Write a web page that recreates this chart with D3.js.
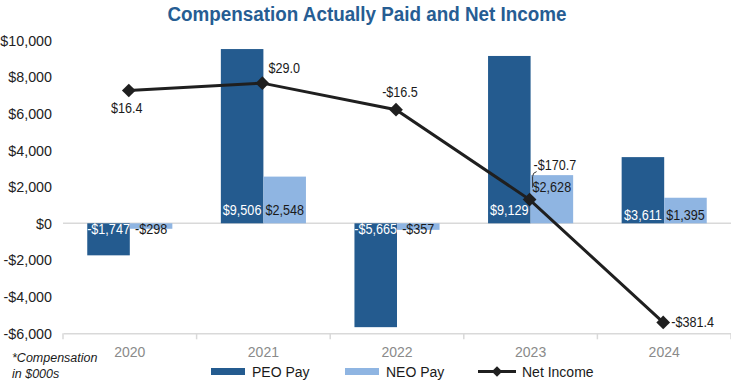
<!DOCTYPE html>
<html><head><meta charset="utf-8">
<script src="https://cdn.jsdelivr.net/npm/d3@7"></script>
<style>
body{margin:0;background:#fff;}
text{font-family:"Liberation Sans",Arial,sans-serif;}
</style></head>
<body><svg id="c" width="731" height="380"></svg>
<script>
const years = ["2020","2021","2022","2023","2024"];
const peoPay = [-1747, 9506, -5665, 9129, 3611];
const neoPay = [-298, 2548, -357, 2628, 1395];
const netIncome = [16.4, 29.0, -16.5, -170.7, -381.4];
const yTicks = [-6000,-4000,-2000,0,2000,4000,6000,8000,10000];
const seriesNames = ["PEO Pay","NEO Pay","Net Income"];

const pL=63, pR=731, pT=40, pB=333.3;
const cPEO="#245b8f", cNEO="#8fb5e2", cTitle="#265d93";
const svg=d3.select("#c");

const x0=d3.scaleBand().domain(years).range([pL,pR]).paddingInner(0).paddingOuter(0);
const x1=d3.scaleBand().domain(["PEO","NEO"]).range([0,x0.bandwidth()]).paddingInner(0).paddingOuter(0.57);
const y=d3.scaleLinear().domain([-6000,10000]).range([pB,pT]);
const y2=d3.scaleLinear().domain([-400,103]).range([pB,pT]);
const fmt=v=>(v<0?"-$":"$")+d3.format(",")(Math.abs(v));
const fmt1=v=>(v<0?"-$":"$")+d3.format(".1f")(Math.abs(v));
function condense(sel,k){sel.each(function(){const w=this.getComputedTextLength();d3.select(this).attr("textLength",w*k).attr("lengthAdjust","spacingAndGlyphs");});}

// title
svg.append("text").attr("x",367).attr("y",21).attr("text-anchor","middle")
 .attr("fill",cTitle).attr("font-weight","bold").attr("font-size",20)
 .attr("textLength",399).attr("lengthAdjust","spacingAndGlyphs")
 .style("font-family","'Liberation Sans Narrow','Arial Narrow','Liberation Sans',sans-serif")
 .text("Compensation Actually Paid and Net Income");

// y axis labels
const yAxis=d3.axisLeft(y).tickValues(yTicks).tickSize(0).tickPadding(0).tickFormat(fmt);
const ga=svg.append("g").attr("transform",`translate(${pL-11},0)`).call(yAxis);
ga.select(".domain").remove();
ga.selectAll("text").attr("font-size",14.3).attr("fill","#222").attr("dy","0.35em")
  .style("font-family","'Liberation Sans',Arial,sans-serif");

// zero line & bottom axis
svg.append("line").attr("x1",pL).attr("x2",pR).attr("y1",y(0)).attr("y2",y(0)).attr("stroke","#d9d9d9").attr("stroke-width",1.5);
const xAxis=d3.axisBottom(x0).tickSize(0).tickPadding(0);
const gx=svg.append("g").attr("transform",`translate(0,${y(-6000)})`).call(xAxis);
gx.select(".domain").attr("stroke","#d9d9d9").attr("stroke-width",1.5);
gx.selectAll("text").attr("font-size",14).attr("fill","#8a8a8a").attr("dy","0").attr("y",24)
  .style("font-family","'Liberation Sans',Arial,sans-serif");
svg.append("g").selectAll("line").data(years.concat(["end"])).join("line")
 .attr("x1",(d,i)=>pL+i*x0.step()).attr("x2",(d,i)=>pL+i*x0.step())
 .attr("y1",y(-6000)).attr("y2",y(-6000)+6).attr("stroke","#d9d9d9").attr("stroke-width",1.5);

// bars
const rows=years.map((yr,i)=>({yr,peo:peoPay[i],neo:neoPay[i]}));
const g=svg.append("g");
rows.forEach(r=>{
  [["PEO",r.peo,cPEO],["NEO",r.neo,cNEO]].forEach(([k,v,c])=>{
    const bx=x0(r.yr)+x1(k);
    g.append("rect").attr("x",bx).attr("width",x1.bandwidth())
     .attr("y",Math.min(y(v),y(0))).attr("height",Math.abs(y(v)-y(0))).attr("fill",c);
  });
});

// line
const pts=years.map((yr,i)=>[x0(yr)+x0.bandwidth()/2-1,y2(netIncome[i])]);
svg.append("path").attr("d",d3.line()(pts)).attr("fill","none").attr("stroke","#1f1f1f").attr("stroke-width",3);
svg.append("g").selectAll("path").data(pts).join("path")
 .attr("d",d3.symbol().type(d3.symbolDiamond2).size(120)).attr("transform",d=>`translate(${d[0]},${d[1]})`).attr("fill","#1f1f1f");

// bar labels
const gl=svg.append("g");
rows.forEach(r=>{
  [["PEO",r.peo,"#fff"],["NEO",r.neo,"#1a1a1a"]].forEach(([k,v,tc])=>{
    const bx=x0(r.yr)+x1(k);
    let ty = v>=0 ? y(0)-8.5 : y(0)+10.5;
    if(r.yr==="2023" && k==="NEO") ty=y(v)+17;
    if(r.yr==="2024") ty=y(0)-3;
    gl.append("text").attr("x",bx+x1.bandwidth()/2).attr("y",ty).attr("text-anchor","middle")
     .attr("font-size",14).attr("fill",tc).text(fmt(v));
  });
});
condense(gl.selectAll("text"),0.9);

// line labels
const lblOff=[[-2,23,"middle"],[6,-10,"start"],[4,-13,"middle"],[4,-30,"start"],[8,5,"start"]];
const gn=svg.append("g");
pts.forEach((p,i)=>{
  gn.append("text").attr("x",p[0]+lblOff[i][0]).attr("y",p[1]+lblOff[i][1]).attr("text-anchor",lblOff[i][2])
   .attr("font-size",14).attr("fill","#1a1a1a").text(fmt1(netIncome[i]));
});
condense(gn.selectAll("text"),0.9);
// leader for 2023
const p3=pts[3];
svg.append("path").attr("d",`M${p3[0]+7},${p3[1]-28} q-4,1 -4,5 L${p3[0]+3},${p3[1]-12}`)
 .attr("fill","none").attr("stroke","#333").attr("stroke-width",1);

// footnote
svg.append("text").attr("x",12).attr("y",362).attr("font-size",12.5).attr("font-style","italic").attr("fill","#1a1a1a").text("*Compensation");
svg.append("text").attr("x",12).attr("y",378).attr("font-size",12.5).attr("font-style","italic").attr("fill","#1a1a1a").text("in $000s");

// legend
const lg=svg.append("g");
const lgX=[211,345,478];
seriesNames.forEach((n,i)=>{
  if(i<2){
    lg.append("rect").attr("x",lgX[i]).attr("y",368).attr("width",34).attr("height",7).attr("fill",i===0?cPEO:cNEO);
  } else {
    lg.append("line").attr("x1",lgX[i]).attr("x2",lgX[i]+38).attr("y1",371.5).attr("y2",371.5).attr("stroke","#1f1f1f").attr("stroke-width",3);
    lg.append("path").attr("d",d3.symbol().type(d3.symbolDiamond2).size(70)).attr("transform",`translate(${lgX[i]+19},371.5)`).attr("fill","#1f1f1f");
  }
  lg.append("text").attr("x",lgX[i]+(i<2?41:44)).attr("y",376.5).attr("font-size",14).attr("fill","#1a1a1a").text(n);
});
</script></body></html>
